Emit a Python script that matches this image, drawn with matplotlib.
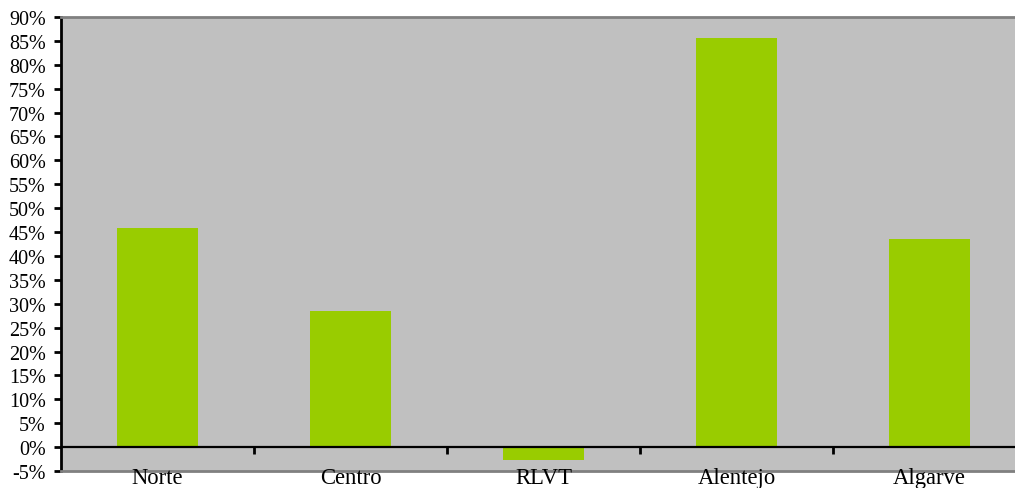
import matplotlib
matplotlib.use("Agg")
import matplotlib.pyplot as plt
from matplotlib.ticker import FuncFormatter, MultipleLocator

regions = ["Norte", "Centro", "RLVT", "Alentejo", "Algarve"]
growth = [45.8, 28.5, -2.7, 85.6, 43.5]

plt.rcParams["font.family"] = ["Liberation Serif", "DejaVu Serif"]

fig = plt.figure(figsize=(10.15, 4.89), dpi=100)
# plot area runs slightly past the right edge of the canvas
ax = fig.add_axes([61 / 1015, 17 / 489, 965 / 1015, 454 / 489])
ax.set_facecolor("#C0C0C0")

x = list(range(len(regions)))
ax.bar(x, growth, width=0.42, color="#99CC00", zorder=2)

ax.set_xlim(-0.5, len(regions) - 0.5)
ax.set_ylim(-5, 90)
ax.yaxis.set_major_locator(MultipleLocator(5))
ax.yaxis.set_major_formatter(FuncFormatter(lambda v, p: f"{v:.0f}%"))
ax.tick_params(axis="y", direction="out", length=5, width=2, labelsize=14.5, pad=6)

# zero line with category separators
ax.axhline(0, color="black", lw=1.6, zorder=3)
ax.set_xticks([])
for b in [i + 0.5 for i in range(len(regions) - 1)]:
    ax.plot([b, b], [0, -1.5], color="black", lw=2, zorder=3, solid_capstyle="butt")
for xi, name in zip(x, regions):
    ax.text(xi, -4.2, name, ha="center", va="top", fontsize=16.3, zorder=4, clip_on=False)

ax.spines["left"].set_linewidth(2)
ax.spines["left"].set_color("black")
ax.spines["top"].set_color("#808080")
ax.spines["top"].set_linewidth(2)
ax.spines["bottom"].set_color("#808080")
ax.spines["bottom"].set_linewidth(2)
ax.spines["right"].set_visible(False)

fig.savefig("out.png", dpi=100)
